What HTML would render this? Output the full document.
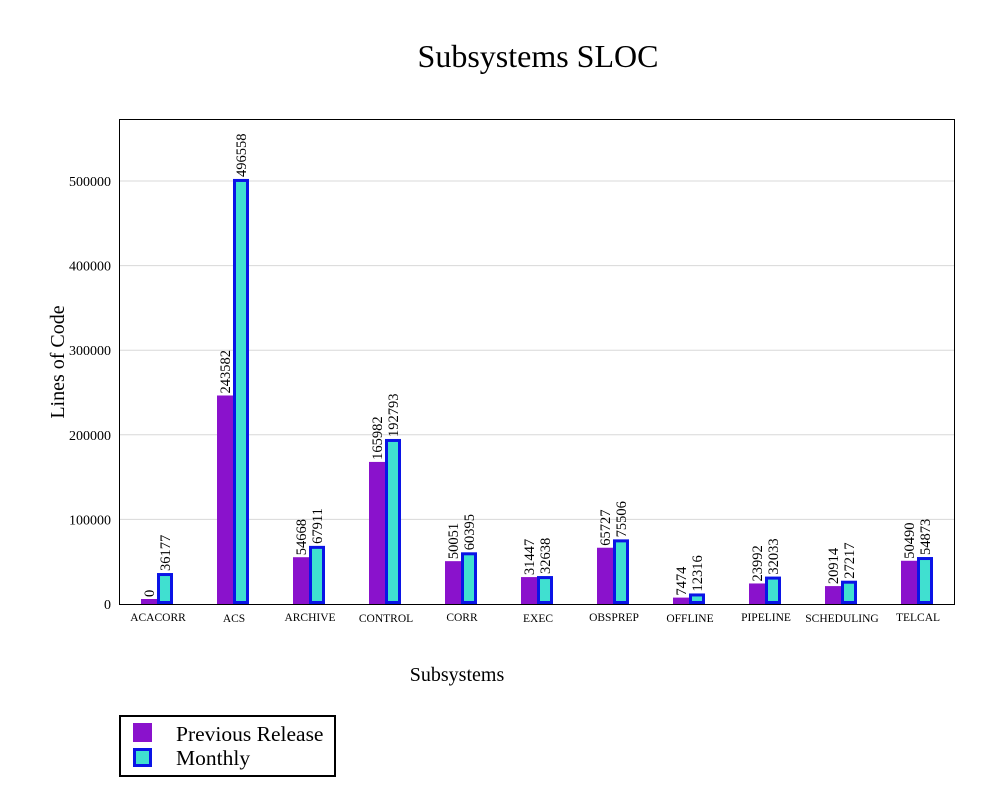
<!DOCTYPE html>
<html><head><meta charset="utf-8"><style>
body{margin:0;background:#fff;}
svg text{font-family:"Liberation Serif",serif;fill:#000;}
</style></head><body>
<svg id="c" width="1000" height="795" xmlns="http://www.w3.org/2000/svg">
<text x="538" y="67" font-size="32" text-anchor="middle">Subsystems SLOC</text>
<g id="grid"></g>
<rect x="119.5" y="119.5" width="835" height="485" fill="none" stroke="#000" stroke-width="1"/>
<g id="bars"></g>
<text x="457" y="681" font-size="20" text-anchor="middle">Subsystems</text>
<text transform="translate(64,362) rotate(-90)" font-size="20" text-anchor="middle">Lines of Code</text>
<g>
<rect x="120" y="716" width="215" height="60" fill="#fff" stroke="#000" stroke-width="2"/>
<rect x="133" y="723" width="19" height="19" fill="#8a12cc"/>
<text x="176" y="741" font-size="21.5">Previous Release</text>
<rect x="134.5" y="749.5" width="16" height="16" fill="#40e0d0" stroke="#0a14e6" stroke-width="3"/>
<text x="176" y="765" font-size="21.5">Monthly</text>
</g>
</svg>
<script>
const categories=["ACACORR","ACS","ARCHIVE","CONTROL","CORR","EXEC","OBSPREP","OFFLINE","PIPELINE","SCHEDULING","TELCAL"];
const previousRelease=[0,243582,54668,165982,50051,31447,65727,7474,23992,20914,50490];
const monthly=[36177,496558,67911,192793,60395,32638,75506,12316,32033,27217,54873];
const yTicks=[0,100000,200000,300000,400000,500000];
const NS="http://www.w3.org/2000/svg";
const y0=604,pxPer=423/500000,barPx=428/500000;
const yScale=v=>y0-v*pxPer;
const xScale=i=>157+i*76;
function mk(tag,attrs,parent){const e=document.createElementNS(NS,tag);for(const k in attrs)e.setAttribute(k,attrs[k]);parent.appendChild(e);return e;}
const grid=document.getElementById('grid'),bars=document.getElementById('bars');
yTicks.forEach(t=>{
  const y=yScale(t);
  if(t>0){const l=mk('line',{x1:120,x2:954,y1:y,y2:y,stroke:'#d8d8d8','stroke-width':1},grid);
  
  }
  const tx=mk('text',{x:111,y:y+5,'font-size':14,'text-anchor':'end'},grid);tx.textContent=t;
  
  
});
categories.forEach((c,i)=>{
  const cx=xScale(i);
  const hp=Math.max(previousRelease[i]*barPx,5);
  const r1=mk('rect',{x:cx-16,y:y0-hp,width:16,height:hp,fill:'#8a12cc'},bars);
  
  
  const hm=monthly[i]*barPx;
  const r2=mk('rect',{x:cx+1.5,y:y0-hm+1.5,width:13,height:hm-3,fill:'#40e0d0',stroke:'#0a14e6','stroke-width':3},bars);
  
  
  const t1=mk('text',{transform:`translate(${cx-3},${y0-hp-2}) rotate(-90)`,'font-size':14.5},bars);t1.textContent=previousRelease[i];
  
  
  const t2=mk('text',{transform:`translate(${cx+13},${y0-hm-2}) rotate(-90)`,'font-size':14.5},bars);t2.textContent=monthly[i];
  
  
  const xl=mk('text',{x:cx+1,y:i%2?622:621,'font-size':11.5,'text-anchor':'middle'},bars);xl.textContent=c;
  
  
});
</script>
</body></html>
